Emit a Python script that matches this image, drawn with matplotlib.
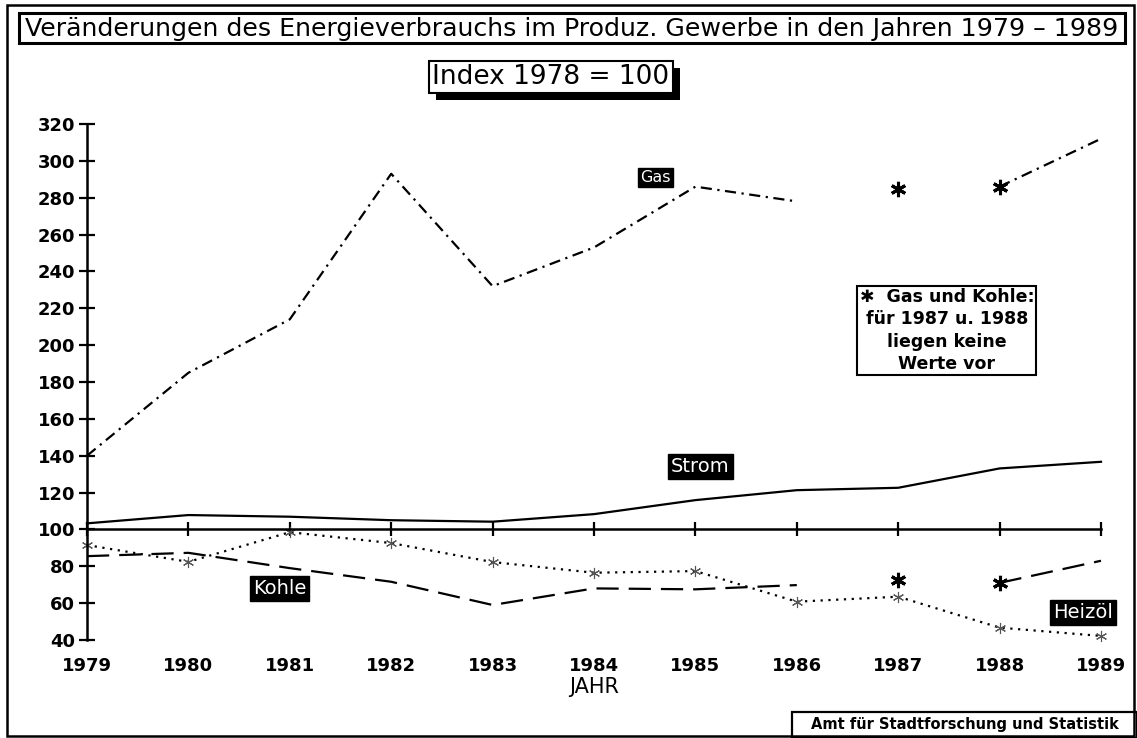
import numpy as np
import matplotlib
matplotlib.use('Agg')
import matplotlib.pyplot as plt
import matplotlib.patches as patches
import matplotlib.patheffects as pe

# Indexwerte 1978 = 100
jahre = np.arange(1979, 1990)
gas = [140, 185, 214, 293, 232, 253, 286, 278, np.nan, 286, 312]
strom = [103.3, 107.8, 106.9, 105.0, 104.2, 108.3, 115.9, 121.3, 122.6, 133.1, 136.7]
kohle = [85.5, 87.3, 79.0, 71.6, 59.0, 68.0, 67.5, 69.8, np.nan, 71.0, 83.0]
heizoel = [91.5, 82.4, 98.5, 92.6, 82.3, 76.5, 77.4, 60.8, 63.5, 46.7, 42.2]

# fehlende Werte (nur Sternchen)
luecke_jahre = [1987, 1988]
gas_luecke = [284.5, 286]
kohle_luecke = [72.5, 71]

yticks = np.arange(40, 321, 20)

titel = 'Veränderungen des Energieverbrauchs im Produz. Gewerbe in den Jahren 1979 \u2013 1989'
untertitel = 'Index 1978 = 100'
hinweis = '\u2731  Gas und Kohle:\nfür 1987 u. 1988\nliegen keine\nWerte vor'
quelle = 'Amt für Stadtforschung und Statistik'

plt.rcParams['font.family'] = ['DejaVu Sans']

W, H = 1137, 738
fig = plt.figure(figsize=(W / 100, H / 100), dpi=100)
ax = fig.add_axes([87 / W, 1 - 640 / H, (1101 - 87) / W, (640 - 124) / H])

lw = 1.6
ax.plot(jahre, gas, color='black', lw=lw, ls=(0, (5, 2.5, 1, 2.5)), clip_on=False)
ax.plot(jahre, strom, color='black', lw=lw, clip_on=False)
ax.plot(jahre, kohle, color='black', lw=lw, ls=(0, (10, 4.5)), clip_on=False)
ax.plot(jahre, heizoel, color='black', lw=lw, ls=(0, (1, 2.5)),
        marker=(6, 2, 0), ms=8, mew=0.8, mec='#555555', clip_on=False)
ax.plot(luecke_jahre, gas_luecke, ls='none', marker=(6, 2, 0), ms=11, mew=2.2, color='black')
ax.plot(luecke_jahre, kohle_luecke, ls='none', marker=(6, 2, 0), ms=11, mew=2.2, color='black')

ax.set_xlim(1979, 1989)
ax.set_ylim(40, 320)

for s in ['top', 'right']:
    ax.spines[s].set_visible(False)
ax.spines['left'].set_linewidth(1.8)
ax.spines['bottom'].set_linewidth(1.8)
ax.spines['bottom'].set_position(('data', 100))

ax.set_yticks(yticks, [str(v) for v in yticks], fontweight='bold')
ax.tick_params(axis='y', direction='inout', length=11, width=1.6, labelsize=13, pad=3)
ax.set_xticks(jahre)
ax.tick_params(axis='x', direction='inout', length=10, width=1.6, labelbottom=False)

sec = ax.secondary_xaxis('bottom')
sec.set_xticks(jahre, [str(j) for j in jahre], fontweight='bold')
sec.tick_params(length=0, pad=12, labelsize=13)
sec.spines['bottom'].set_visible(False)
sec.set_xlabel('JAHR', fontsize=15, labelpad=2)

schild = dict(color='white', ha='center', va='center',
              bbox=dict(boxstyle='square,pad=0.15', fc='black', ec='black'))
ax.text(1984.61, 291, 'Gas', fontsize=11.5, **schild)
ax.text(1985.05, 134, 'Strom', fontsize=14, **schild)
ax.text(1980.9, 68, 'Kohle', fontsize=14, **schild)
ax.text(1988.82, 55, 'Heizöl', fontsize=14, **schild)

ax.text(1987.48, 208, hinweis, ha='center', va='center', fontsize=12.5,
        fontweight='bold', linespacing=1.3,
        bbox=dict(boxstyle='square,pad=0.12', fc='white', ec='black', lw=1.5))

# Rahmen um alles
fig.add_artist(patches.Rectangle((7 / W, 2 / H), 1127 / W, 731 / H, fill=False,
                                 lw=1.8, ec='black', transform=fig.transFigure))

# Titelkasten
fig.add_artist(patches.Rectangle((19 / W, 1 - 43 / H), 1106 / W, 30 / H, fill=False,
                                 lw=2.2, ec='black', transform=fig.transFigure))
t = fig.text(572 / W, 1 - 29 / H, titel, ha='center', va='center', fontsize=17)
fig.canvas.draw()
breite = t.get_window_extent().width
t.set_fontsize(17 * 1096 / breite)

u = fig.text(551 / W, 1 - 77 / H, untertitel, ha='center', va='center', fontsize=19,
             bbox=dict(boxstyle='square,pad=0.12', fc='white', ec='black', lw=1.5))
u.get_bbox_patch().set_path_effects([
    pe.SimplePatchShadow(offset=(5, -5), shadow_rgbFace='black', alpha=1.0),
    pe.Normal()])

# Quelle
fig.add_artist(patches.Rectangle((792 / W, 0), 345 / W, 26 / H, fill=False,
                                 lw=1.6, ec='black', transform=fig.transFigure))
fig.text(965 / W, 1 - 725 / H, quelle, ha='center', va='center', fontsize=10.5,
         fontweight='bold')

fig.savefig('out.png', dpi=100)
